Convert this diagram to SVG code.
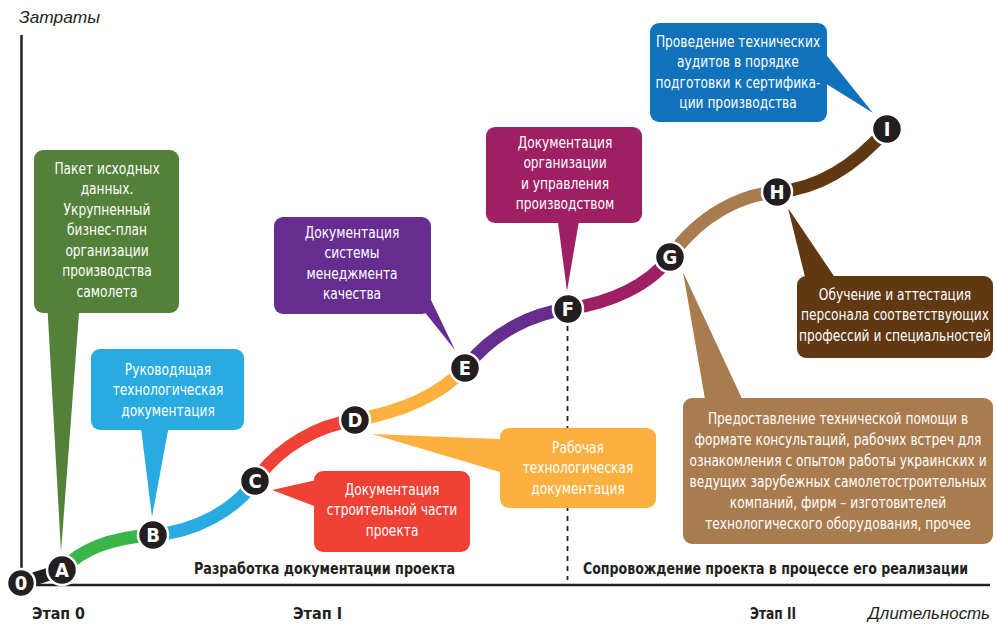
<svg xmlns="http://www.w3.org/2000/svg" width="996" height="624" viewBox="0 0 996 624">
<style>
.t text{font-family:"DejaVu Sans Condensed","Liberation Sans",sans-serif;font-size:16px;fill:#fff;text-anchor:middle}
.lbl{font-family:"DejaVu Sans Condensed","Liberation Sans",sans-serif;font-size:16px;font-weight:bold;fill:#231f20}
.ax{font-family:"Liberation Sans","DejaVu Sans",sans-serif;font-size:17px;font-style:italic;fill:#231f20}
.seg{fill:none;stroke-width:13}
.node circle{fill:#231f20;stroke:#fff;stroke-width:2.5}
.node text{font-family:"DejaVu Sans Condensed","Liberation Sans",sans-serif;font-weight:bold;font-size:20px;fill:#fff;text-anchor:middle}
</style>
<rect width="996" height="624" fill="#fff"/>
<g id="axes" stroke="#231f20" stroke-width="2.5" fill="none">
<line x1="21.5" y1="35" x2="21.5" y2="585"/>
<line x1="21" y1="585" x2="990" y2="585"/>
<line x1="567.5" y1="326" x2="567.5" y2="580" stroke-width="1.8" stroke-dasharray="5,5"/>
</g>
<text class="ax" x="19" y="23" textLength="81" lengthAdjust="spacingAndGlyphs">Затраты</text>
<text class="ax" x="868" y="619" textLength="122" lengthAdjust="spacingAndGlyphs">Длительность</text>
<text class="lbl" x="32" y="619" textLength="53" lengthAdjust="spacingAndGlyphs">Этап 0</text>
<text class="lbl" x="293" y="619" textLength="49" lengthAdjust="spacingAndGlyphs">Этап I</text>
<text class="lbl" x="750" y="619" textLength="46" lengthAdjust="spacingAndGlyphs">Этап II</text>
<text class="lbl" x="194" y="574" textLength="261" lengthAdjust="spacingAndGlyphs">Разработка документации проекта</text>
<text class="lbl" x="583" y="574" textLength="385" lengthAdjust="spacingAndGlyphs">Сопровождение проекта в процессе его реализации</text>
<g id="connectors">
<path class="seg" stroke="#231f20" d="M21,583 L62,570"/>
<path class="seg" stroke="#39b54a" d="M62,570 C85,545 120,537 153,535"/>
<path class="seg" stroke="#29abe2" d="M153,535 C195,532 235,510 255,481"/>
<path class="seg" stroke="#ef4136" d="M255,481 C280,445 320,425 355,420"/>
<path class="seg" stroke="#fbb040" d="M355,420 C400,412 440,395 465,368"/>
<path class="seg" stroke="#662d91" d="M465,368 C495,330 535,313 568,309"/>
<path class="seg" stroke="#9e1f63" d="M568,309 C610,303 650,285 670,257"/>
<path class="seg" stroke="#a97c50" d="M670,257 C700,215 740,195 777,192"/>
<path class="seg" stroke="#603913" d="M777,192 C825,188 860,160 887,129"/>
</g>
<g id="callout-A" fill="#548139">
<polygon points="47,300 80,300 61,552"/>
<rect x="34" y="150" width="145" height="163" rx="9"/>
<g class="t" transform="translate(107 0) scale(.85 1)">
<text y="174">Пакет исходных</text>
<text y="194.5">данных.</text>
<text y="215">Укрупненный</text>
<text y="235.5">бизнес-план</text>
<text y="256">организации</text>
<text y="276.5">производства</text>
<text y="297">самолета</text>
</g>
</g>
<g id="callout-B" fill="#29abe2">
<polygon points="140,420 170,420 152,517"/>
<rect x="91" y="349" width="153" height="81" rx="9"/>
<g class="t" transform="translate(168 0) scale(.85 1)">
<text y="375">Руководящая</text>
<text y="395.5">технологическая</text>
<text y="416">документация</text>
</g>
</g>
<g id="callout-C" fill="#ef4136">
<polygon points="330,477 330,512 272,490"/>
<rect x="314" y="471" width="156" height="81" rx="9"/>
<g class="t" transform="translate(392 0) scale(.85 1)">
<text y="495">Документация</text>
<text y="515.5">строительной части</text>
<text y="536">проекта</text>
</g>
</g>
<g id="callout-D" fill="#fbb040">
<polygon points="520,440 520,478 372,434"/>
<rect x="500" y="428" width="156" height="80" rx="9"/>
<g class="t" transform="translate(578 0) scale(.85 1)">
<text y="453">Рабочая</text>
<text y="473.5">технологическая</text>
<text y="494">документация</text>
</g>
</g>
<g id="callout-E" fill="#662d91">
<polygon points="415,300 431,300 455,350"/>
<rect x="274" y="217" width="157" height="97" rx="9"/>
<g class="t" transform="translate(352 0) scale(.85 1)">
<text y="238">Документация</text>
<text y="258.5">системы</text>
<text y="279">менеджмента</text>
<text y="299.5">качества</text>
</g>
</g>
<g id="callout-F" fill="#9e1f63">
<polygon points="557,215 580,215 567,291"/>
<rect x="486" y="127" width="156" height="96" rx="9"/>
<g class="t" transform="translate(565 0) scale(.85 1)">
<text y="148">Документация</text>
<text y="168.5">организации</text>
<text y="189">и управления</text>
<text y="209.5">производством</text>
</g>
</g>
<g id="callout-I" fill="#1072ba">
<polygon points="820,47 820,80 873,113"/>
<rect x="650" y="23" width="177" height="99" rx="9"/>
<g class="t" transform="translate(738 0) scale(.85 1)">
<text y="47">Проведение технических</text>
<text y="67.5">аудитов в порядке</text>
<text y="88">подготовки к сертифика-</text>
<text y="108.5">ции производства</text>
</g>
</g>
<g id="callout-H" fill="#603913">
<polygon points="807,285 840,285 788,208"/>
<rect x="797" y="276" width="196" height="82" rx="9"/>
<g class="t" transform="translate(895 0) scale(.85 1)">
<text y="300">Обучение и аттестация</text>
<text y="320.5">персонала соответствующих</text>
<text y="341">профессий и специальностей</text>
</g>
</g>
<g id="callout-G" fill="#a97c50">
<polygon points="706,405 745,405 683,272"/>
<rect x="683" y="398" width="310" height="146" rx="9"/>
<g class="t" transform="translate(838 0) scale(.85 1)">
<text y="424">Предоставление технической помощи в</text>
<text y="445">формате консультаций, рабочих встреч для</text>
<text y="466">ознакомления с опытом работы украинских и</text>
<text y="487">ведущих зарубежных самолетостроительных</text>
<text y="508">компаний, фирм – изготовителей</text>
<text y="529">технологического оборудования, прочее</text>
</g>
</g>
<g id="node-0" class="node"><circle cx="21" cy="583" r="14"/><text x="21" y="590">0</text></g>
<g id="node-A" class="node"><circle cx="62" cy="570" r="15"/><text x="62" y="577">A</text></g>
<g id="node-B" class="node"><circle cx="153" cy="535" r="15"/><text x="153" y="542">B</text></g>
<g id="node-C" class="node"><circle cx="255" cy="481" r="15"/><text x="255" y="488">C</text></g>
<g id="node-D" class="node"><circle cx="355" cy="420" r="15"/><text x="355" y="427">D</text></g>
<g id="node-E" class="node"><circle cx="465" cy="368" r="15"/><text x="465" y="375">E</text></g>
<g id="node-F" class="node"><circle cx="568" cy="309" r="15"/><text x="568" y="316">F</text></g>
<g id="node-G" class="node"><circle cx="670" cy="257" r="15"/><text x="670" y="264">G</text></g>
<g id="node-H" class="node"><circle cx="777" cy="192" r="15"/><text x="777" y="199">H</text></g>
<g id="node-I" class="node"><circle cx="887" cy="129" r="15"/><text x="887" y="136">I</text></g>
</svg>
